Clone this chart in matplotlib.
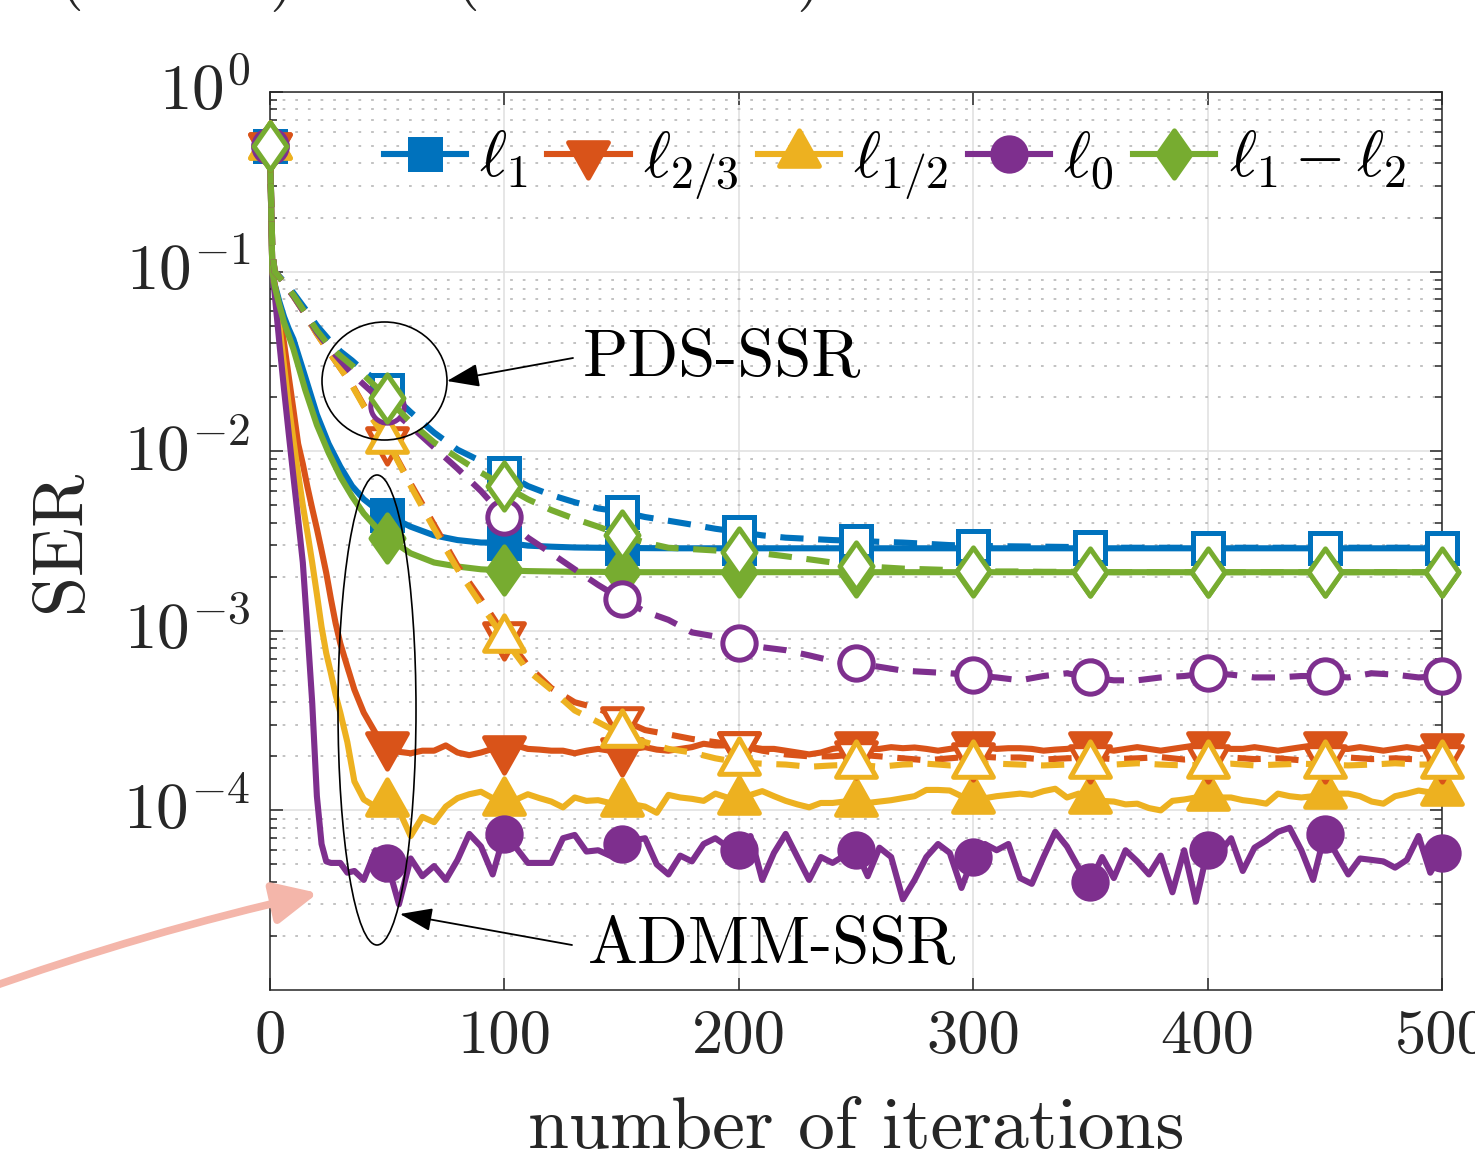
import numpy as np
import matplotlib
matplotlib.use("Agg")
import matplotlib.pyplot as plt
import matplotlib.transforms as mtransforms
from matplotlib.path import Path
from matplotlib.patches import Ellipse, FancyArrowPatch
from matplotlib.ticker import NullLocator, NullFormatter, LogLocator

plt.rcParams['font.family'] = 'cmr10'
plt.rcParams['mathtext.fontset'] = 'cm'
plt.rcParams['axes.formatter.use_mathtext'] = True

# ---- data ----
it_fine = [0, 1, 2, 4, 6, 8, 10, 12, 14, 16, 18, 20, 22, 24, 26, 28, 30, 33, 36, 40, 45] + list(range(50, 501, 5))
it_smooth = [0, 1, 2, 4, 6, 8, 10, 15, 20, 25, 30, 35, 40, 45, 50, 60, 70, 80, 90, 100,
             110, 120, 130, 140, 150] + list(range(175, 501, 25))
it_pds = [0, 1, 2, 4, 6, 8, 10, 15, 20, 25, 30, 35, 40, 45] + list(range(50, 501, 10))

# ADMM-SSR (solid)
admm_l1 = [0.5, 0.1, 0.085, 0.068, 0.056, 0.048, 0.042, 0.026, 0.016, 0.011, 0.0082, 0.0064, 0.0054,
           0.0048, 0.0044, 0.0038, 0.0034, 0.0032, 0.0031, 0.0031, 0.00298, 0.00294, 0.00291, 0.0029,
           0.00289, 0.00288, 0.00288, 0.00288, 0.00288, 0.00288, 0.00288, 0.00288, 0.00288, 0.00288,
           0.00288, 0.00288, 0.00288, 0.00288, 0.00288]
admm_l12 = [0.5, 0.1, 0.083, 0.065, 0.052, 0.044, 0.037, 0.022, 0.014, 0.0098, 0.0072, 0.0056, 0.0045,
            0.0038, 0.0033, 0.0027, 0.0024, 0.00228, 0.0022, 0.00217, 0.00215, 0.00214, 0.00213, 0.00213,
            0.00212, 0.00212, 0.00212, 0.00212, 0.00212, 0.00212, 0.00212, 0.00212, 0.00212, 0.00212,
            0.00212, 0.00212, 0.00212, 0.00212, 0.00212]
admm_l23 = [0.5, 0.1, 0.085, 0.06, 0.04, 0.026, 0.017, 0.011, 0.0085, 0.0063, 0.0048, 0.0037, 0.0028,
            0.0021, 0.0015, 0.0011, 8.5e-4, 6.3e-4, 4.7e-4, 3.5e-4, 2.7e-4] + list(np.array([
    2.30, 2.12, 2.08, 2.15, 2.15, 2.30, 2.10, 2.03, 2.10, 2.20,
    2.20, 2.30, 2.20, 2.18, 2.15, 2.15, 2.08, 2.15, 2.20, 2.15,
    2.15, 2.20, 2.25, 2.18, 2.15, 2.20, 2.25, 2.35, 2.30, 2.30,
    2.30, 2.25, 2.20, 2.20, 2.15, 2.10, 2.05, 2.10, 2.20, 2.25,
    2.30, 2.20, 2.20, 2.25, 2.22, 2.24, 2.20, 2.15, 2.20, 2.25,
    2.30, 2.25, 2.20, 2.22, 2.22, 2.20, 2.15, 2.18, 2.20, 2.25,
    2.30, 2.20, 2.15, 2.20, 2.25, 2.20, 2.15, 2.20, 2.25, 2.30,
    2.30, 2.25, 2.20, 2.20, 2.25, 2.20, 2.15, 2.20, 2.25, 2.30,
    2.30, 2.20, 2.20, 2.25, 2.20, 2.15, 2.20, 2.25, 2.20, 2.25,
    2.25]) * 1e-4)
admm_lhalf = [0.5, 0.1, 0.08, 0.05, 0.03, 0.018, 0.0115, 0.0075, 0.005, 0.0035, 0.0024, 0.0016, 0.00105,
              7.5e-4, 5.8e-4, 4.4e-4, 3.5e-4, 2.4e-4, 1.45e-4, 1.15e-4, 1.05e-4] + list(np.array([
    1.10, 1.00, 0.72, 0.92, 0.86, 1.05, 1.17, 1.23, 1.27, 1.17,
    1.12, 1.15, 1.23, 1.17, 1.12, 1.04, 1.18, 1.13, 1.14, 1.10,
    1.10, 1.08, 1.05, 0.97, 1.22, 1.18, 1.16, 1.13, 1.24, 1.18,
    1.13, 1.22, 1.28, 1.20, 1.13, 1.08, 1.04, 1.10, 1.10, 1.12,
    1.10, 1.10, 1.12, 1.14, 1.17, 1.20, 1.30, 1.30, 1.29, 1.20,
    1.14, 1.17, 1.20, 1.22, 1.24, 1.22, 1.28, 1.32, 1.18, 1.24,
    1.14, 1.13, 1.12, 1.08, 1.09, 1.03, 1.00, 1.13, 1.15, 1.18,
    1.18, 1.18, 1.18, 1.14, 1.12, 1.09, 1.24, 1.20, 1.18, 1.20,
    1.22, 1.24, 1.24, 1.20, 1.12, 1.09, 1.20, 1.24, 1.29, 1.26,
    1.26]) * 1e-4)
admm_l0 = [0.5, 0.1, 0.075, 0.04, 0.022, 0.0125, 0.0072, 0.0042, 0.0024, 0.001, 4e-4, 1.2e-4, 6.5e-5,
           5.2e-5, 5.1e-5, 5.1e-5, 5.1e-5, 4.5e-5, 4.6e-5, 4.1e-5, 6.0e-5] + list(np.array([
    5.1, 3.0, 5.4, 4.3, 4.9, 4.1, 5.3, 7.4, 6.3, 4.4,
    7.4, 6.2, 5.1, 5.1, 5.1, 7.0, 7.3, 5.9, 6.0, 5.6,
    6.5, 6.8, 7.0, 5.0, 4.4, 5.6, 5.2, 6.5, 7.0, 6.3,
    6.0, 7.2, 4.1, 5.8, 7.4, 5.5, 4.1, 5.5, 5.1, 5.6,
    6.0, 4.3, 6.2, 5.5, 3.2, 4.1, 5.5, 6.5, 5.8, 3.7,
    5.5, 6.5, 6.0, 6.5, 4.2, 3.9, 5.5, 7.6, 6.3, 4.8,
    4.0, 5.5, 4.2, 6.0, 5.2, 4.4, 5.6, 3.5, 6.0, 3.1,
    6.0, 5.8, 7.0, 4.6, 6.2, 6.8, 7.6, 8.0, 6.0, 4.1,
    7.4, 5.7, 4.4, 5.4, 5.3, 5.2, 4.8, 5.3, 7.2, 4.5,
    5.8]) * 1e-5)

# PDS-SSR (dashed)
pds_l1 = [0.5, 0.13, 0.1, 0.094, 0.088, 0.082, 0.076, 0.062, 0.05, 0.042, 0.036, 0.032, 0.028, 0.025,
          0.0219, 0.0165, 0.0127, 0.0102, 0.0088, 0.0076, 0.0064, 0.0057, 0.0052, 0.0048, 0.0046,
          0.0043, 0.0041, 0.0039, 0.0037, 0.00355, 0.0034, 0.0033, 0.00325, 0.0032, 0.00317, 0.00313,
          0.0031, 0.00305, 0.003, 0.00298, 0.00296, 0.00295, 0.00294, 0.00293, 0.00292, 0.0029,
          0.0029, 0.0029, 0.0029, 0.0029, 0.0029, 0.0029, 0.0029, 0.0029, 0.0029, 0.0029, 0.0029,
          0.0029, 0.0029, 0.0029]
pds_l12 = [0.5, 0.13, 0.1, 0.093, 0.086, 0.08, 0.074, 0.059, 0.047, 0.039, 0.034, 0.030, 0.0265, 0.023,
           0.0197, 0.0145, 0.0112, 0.0092, 0.0076, 0.0064, 0.0054, 0.0047, 0.0042, 0.0038, 0.0034,
           0.0031, 0.0029, 0.00285, 0.0028, 0.00275, 0.0027, 0.0026, 0.0025, 0.0024, 0.0023, 0.00226,
           0.00222, 0.0022, 0.00218, 0.00216, 0.00214, 0.00214, 0.00213, 0.00213, 0.00213, 0.00212,
           0.00212, 0.00212, 0.00212, 0.00212, 0.00212, 0.00212, 0.00212, 0.00212, 0.00212, 0.00212,
           0.00212, 0.00212, 0.00212, 0.00212]
pds_l23 = [0.5, 0.13, 0.1, 0.093, 0.086, 0.079, 0.073, 0.058, 0.045, 0.036, 0.029, 0.0235, 0.018,
           0.0145] + list(np.array([
    115, 66, 39, 23, 15, 9.5, 6.4, 4.8, 4.0, 3.7,
    3.2, 2.8, 2.65, 2.5, 2.4, 2.3, 2.15, 2.05, 2.0, 2.0,
    2.05, 2.0, 1.95, 1.9, 1.95, 2.0, 1.97, 1.97, 1.92, 1.95,
    1.97, 1.93, 1.95, 1.98, 1.92, 1.95, 1.97, 1.93, 1.95, 1.9,
    1.95, 1.97, 1.93, 1.95, 1.92, 1.95]) * 1e-4)
pds_lhalf = [0.5, 0.13, 0.1, 0.093, 0.086, 0.079, 0.073, 0.058, 0.045, 0.036, 0.029, 0.0232, 0.0178,
             0.0143] + list(np.array([
    115, 64, 37, 22, 14, 9.0, 6.0, 4.7, 3.6, 3.1,
    2.65, 2.4, 2.2, 2.1, 1.95, 1.85, 1.82, 1.8, 1.75, 1.78,
    1.8, 1.75, 1.8, 1.82, 1.78, 1.8, 1.82, 1.8, 1.78, 1.8,
    1.78, 1.8, 1.83, 1.8, 1.78, 1.8, 1.82, 1.78, 1.8, 1.82,
    1.8, 1.78, 1.8, 1.83, 1.8, 1.8]) * 1e-4)
pds_l0 = [0.5, 0.13, 0.1, 0.093, 0.086, 0.079, 0.073, 0.058, 0.046, 0.038, 0.032, 0.027, 0.0235,
          0.0205] + list(np.array([
    178, 138, 105, 80, 60, 43, 33, 27, 22, 18,
    15, 12.8, 11.5, 9.8, 9.3, 8.6, 8.1, 7.8, 7.3, 6.8,
    6.6, 6.3, 6.0, 5.9, 5.8, 5.65, 5.5, 5.3, 5.6, 5.8,
    5.5, 5.3, 5.3, 5.5, 5.6, 5.8, 5.7, 5.5, 5.5, 5.6,
    5.6, 5.5, 5.8, 5.7, 5.5, 5.6]) * 1e-4)

labels = [r'$\ell_1$', r'$\ell_{2/3}$', r'$\ell_{1/2}$', r'$\ell_0$', r'$\ell_1-\ell_2$']
colors = ['#0072BD', '#D95319', '#EDB120', '#7E2F8E', '#77AC30']
xticks = [0, 100, 200, 300, 400, 500]
yticks = [1e-4, 1e-3, 1e-2, 1e-1, 1e0]
ytick_labels = [r'$10^{-4}$', r'$10^{-3}$', r'$10^{-2}$', r'$10^{-1}$', r'$10^{0}$']

# ---- marker shapes (centred on centroid like MATLAB) ----
tri_up = Path([(0, 1), (-0.843, -0.5), (0.843, -0.5), (0, 1)], closed=True)
tri_dn = Path([(0, -1), (-0.843, 0.5), (0.843, 0.5), (0, -1)], closed=True)
diam = Path([(0, 1), (0.7, 0), (0, -1), (-0.7, 0), (0, 1)], closed=True)
markers = ['s', tri_dn, tri_up, 'o', diam]
msizes = [21, 34, 34, 24, 34]

W, H = 1475, 1161
fig = plt.figure(figsize=(W / 100, H / 100), dpi=100)
ax = fig.add_axes([270 / W, 1 - 990 / H, 1172 / W, 898 / H])

def every50(it):
    return [i for i, t in enumerate(it) if t % 50 == 0]

admm = [(it_smooth, admm_l1), (it_fine, admm_l23), (it_fine, admm_lhalf), (it_fine, admm_l0),
        (it_smooth, admm_l12)]
pds = [(it_pds, pds_l1), (it_pds, pds_l23), (it_pds, pds_lhalf), (it_pds, pds_l0), (it_pds, pds_l12)]

lw = 4.4
mew = 3.6
handles = []
for (it, y), c, m, ms in zip(admm, colors, markers, msizes):
    h, = ax.plot(it, y, '-', color=c, lw=lw, marker=m, ms=ms, mfc=c, mec=c, mew=mew,
                 markevery=every50(it), zorder=3, clip_on=False)
    handles.append(h)
for (it, y), c, m, ms in zip(pds, colors, markers, msizes):
    ax.plot(it, y, color=c, lw=lw, dashes=(3.8, 2.4), marker=m, ms=ms, mfc='white', mec=c,
            mew=mew, markevery=every50(it), zorder=4, clip_on=False)

ax.set_yscale('log')
ax.set_xlim(0, 500)
ax.set_ylim(1e-5, 1)
ax.set_xticks(xticks)
ax.set_xticklabels([str(v) for v in xticks])
ax.set_yticks(yticks)
ax.set_yticklabels(ytick_labels)
ax.xaxis.set_minor_locator(NullLocator())
ax.yaxis.set_minor_locator(LogLocator(base=10, subs=np.arange(2, 10), numticks=20))
ax.yaxis.set_minor_formatter(NullFormatter())

ax.grid(True, which='major', color='#e2e2e2', lw=1.2, ls='-', zorder=0)
ax.grid(True, which='minor', axis='y', color='#bdbdbd', lw=1.3, ls=(0, (1.5, 5.5)), zorder=0)
ax.set_axisbelow(True)

ax.tick_params(which='both', direction='in', top=True, right=True, color='#262626', width=1.1,
               labelsize=45, labelcolor='#262626', pad=14)
ax.tick_params(axis='y', which='major', labelsize=47)
ax.tick_params(which='major', length=9)
ax.tick_params(which='minor', length=5)
lift = mtransforms.ScaledTranslation(0, 6 / 100, fig.dpi_scale_trans)
for lab in ax.get_yticklabels():
    lab.set_transform(lab.get_transform() + lift)
for s in ax.spines.values():
    s.set_color('#262626')
    s.set_linewidth(1.1)

ax.set_xlabel('number of iterations', fontsize=53, color='#262626', labelpad=23)
ax.set_ylabel('SER', fontsize=52, color='#262626', labelpad=21)

ax.legend(handles, labels, ncol=5, frameon=False, fontsize=47, loc='center',
          bbox_to_anchor=((895 - 270) / 1172, (990 - 165) / 898), handlelength=1.26,
          handletextpad=0.2, columnspacing=0.3, borderpad=0, numpoints=1)

# ---- annotations (positions in pixels of the reference) ----
def axp(x, y):
    return ((x - 270) / 1172, (990 - y) / 898)

ax.add_patch(Ellipse(axp(384.5, 381), 125 / 1172, 118 / 898, transform=ax.transAxes,
                     fill=False, ec='black', lw=1.2, zorder=6))
ax.add_patch(Ellipse(axp(377, 710), 78 / 1172, 470 / 898, transform=ax.transAxes,
                     fill=False, ec='black', lw=1.2, zorder=6))
for a, b in [((573, 358), (447, 381)), ((572, 945), (400, 914))]:
    ax.add_patch(FancyArrowPatch(axp(*a), axp(*b), transform=ax.transAxes,
                                 arrowstyle='-|>,head_length=1.0,head_width=0.36', mutation_scale=20,
                                 color='black', lw=1.3, shrinkA=0, shrinkB=0, zorder=6))
ax.text(*axp(583, 375), 'PDS-SSR', transform=ax.transAxes, fontsize=48, va='baseline',
        ha='left', zorder=6)
ax.text(*axp(588, 962), 'ADMM-SSR', transform=ax.transAxes, fontsize=48, va='baseline',
        ha='left', zorder=6)

# pink arrow coming from outside the frame
fig.add_artist(FancyArrowPatch((-20 / W, 1 - 991 / H), (318 / W, 1 - 893 / H),
                               transform=fig.transFigure, connectionstyle='arc3,rad=-0.03',
                               arrowstyle='-|>,head_length=1.33,head_width=0.63', mutation_scale=20,
                               color='#F4B6AA', lw=5.5, shrinkA=0, shrinkB=0))

# bottoms of a caption line cut off by the top edge
for x, ch in [(70, '('), (282, ')'), (466, '('), (809, ')')]:
    fig.text(x / W, 1 + 6 / H, ch, fontsize=48, ha='center', va='baseline', color='#262626')

fig.savefig('out.png', dpi=100)
